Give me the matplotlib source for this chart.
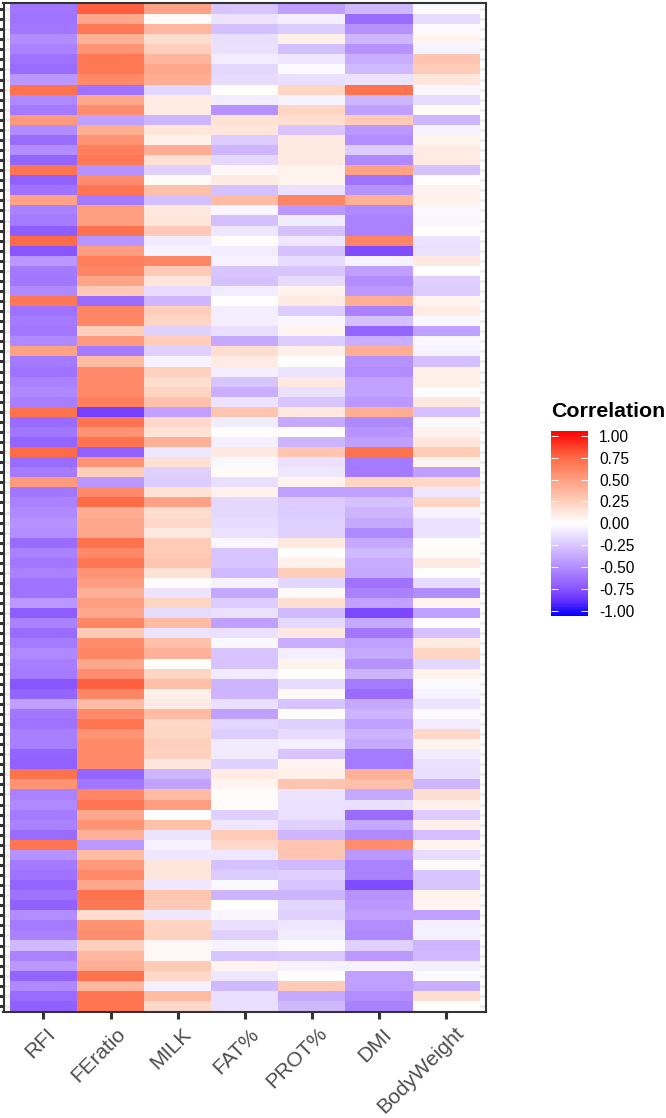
"""
Correlation heatmap of trait columns across 100 rows.
"""

import matplotlib
matplotlib.use("Agg")
import matplotlib.pyplot as plt
from matplotlib.colors import LinearSegmentedColormap, Normalize
from matplotlib.transforms import ScaledTranslation
import numpy as np

plt.rcParams["font.family"] = ["Liberation Sans", "DejaVu Sans"]

traits = ["RFI", "FEratio", "MILK", "FAT%", "PROT%", "DMI", "BodyWeight"]

rfi = [-.6, -.62, -.6, -.5, -.55, -.62, -.65, -.45, .72, -.52,
       -.58, .52, -.5, -.65, -.5, -.68, .7, -.7, -.62, .48,
       -.55, -.58, -.72, .75, -.75, -.45, -.58, -.6, -.52, .68,
       -.62, -.58, -.6, -.52, .48, -.58, -.62, -.55, -.52, -.57,
       .72, -.65, -.6, -.68, .75, -.65, -.58, .52, -.6, -.55,
       -.52, -.48, -.5, -.65, -.55, -.6, -.55, -.62, -.62, -.45,
       -.72, -.55, -.65, -.58, -.52, -.57, -.58, -.75, -.68, -.42,
       -.6, -.62, -.56, -.56, -.68, -.7, .72, .55, -.55, -.52,
       -.58, -.55, -.65, .7, -.48, -.58, -.62, -.68, -.62, -.7,
       -.5, -.58, -.55, -.3, -.55, -.45, -.68, -.52, -.65, -.7]
feratio = [.78, .45, .68, .4, .55, .68, .68, .6, -.62, .45,
           .58, -.42, .42, .55, .65, .68, -.48, .58, .7, -.58,
           .5, .5, .72, -.47, .5, .65, .62, .47, .27, -.65,
           .62, .62, .25, .52, -.58, .35, .6, .6, .6, .65,
           -.82, .7, .55, .72, -.7, .55, .25, -.45, .6, .75,
           .42, .45, .45, .72, .6, .68, .55, .5, .4, .5,
           .45, .62, .28, .58, .62, .45, .58, .78, .62, .35,
           .6, .7, .55, .6, .6, .6, -.68, -.6, .62, .7,
           .45, .55, .4, -.45, .35, .52, .6, .45, .72, .68,
           .18, .55, .58, .25, .38, .42, .72, .38, .7, .7]
milk = [.48, .02, .38, .17, .25, .38, .45, .42, -.18, .1,
        .1, -.32, .14, .08, .42, .16, -.2, .02, .33, -.28,
        .12, .14, .27, -.09, -.05, .62, .27, .14, -.15, -.32,
        .25, .22, -.2, .26, -.2, -.05, .24, .18, .23, .32,
        -.42, .2, .15, .4, -.1, .16, -.2, -.22, .15, .48,
        .17, .2, .12, .28, .28, .3, .15, .01, -.12, .22,
        -.15, .35, -.12, .33, .4, 0, .22, .33, .08, .1,
        .35, .2, .22, .25, .24, .13, -.32, -.4, .35, .5,
        0, .33, -.12, -.05, -.1, .13, .13, -.1, .3, .28,
        -.1, .23, .24, .04, .04, .28, .2, -.06, .35, .2]
fat = [-.25, -.12, -.28, -.14, -.13, -.08, -.17, -.15, 0, -.08,
       -.48, .15, .13, -.22, -.32, -.17, .04, .1, -.27, .35,
       -.04, -.28, -.1, .02, -.08, -.05, -.25, -.27, -.08, 0,
       -.07, -.07, -.14, -.38, .17, .1, -.07, -.25, -.35, -.12,
       .3, -.08, 0, -.07, .12, -.03, .03, -.14, .07, -.17,
       -.17, -.15, -.13, -.04, -.25, -.25, -.3, -.05, -.38, -.22,
       -.13, -.42, -.13, -.03, -.25, -.26, -.09, -.33, -.33, -.14,
       -.42, -.18, -.22, -.09, -.09, -.2, .1, .05, .01, .02,
       -.2, -.1, .27, .2, -.1, -.27, -.22, -.03, -.33, 0,
       -.04, -.14, -.2, -.05, -.25, .05, -.1, -.3, -.14, -.14]
prot = [-.42, -.06, -.22, .08, -.28, -.1, -.02, -.14, .22, -.05,
        .22, .18, -.25, .11, .11, .11, .06, .06, -.13, .62,
        -.45, -.08, -.27, -.1, -.27, -.15, -.25, -.16, .06, .1,
        -.22, -.04, .05, -.22, .08, 0, -.12, .12, -.13, -.25,
        .12, -.38, 0, -.33, .3, -.13, -.1, .06, -.42, -.22,
        -.22, -.2, -.2, .12, 0, .07, .26, -.18, .03, .17,
        -.3, -.17, .12, -.35, -.07, .06, 0, -.15, .03, -.26,
        0, -.2, -.15, -.06, -.25, .06, .08, .3, -.12, -.13,
        -.13, -.2, -.32, .3, .3, -.3, -.2, -.25, -.33, -.18,
        -.2, -.1, -.08, -.02, -.24, -.05, 0, .27, -.38, -.3]
dmi = [-.3, -.65, -.48, -.32, -.48, -.35, -.3, -.12, .72, -.32,
       -.42, .28, -.45, -.5, -.22, -.52, .48, -.62, -.48, .4,
       -.52, -.55, -.55, .62, -.78, -.05, -.42, -.5, -.45, .42,
       -.55, -.27, -.68, -.35, .42, -.48, -.5, -.4, -.4, -.45,
       .42, -.52, -.47, -.42, .72, -.58, -.58, .22, -.42, -.27,
       -.33, -.38, -.52, -.38, -.3, -.37, -.38, -.62, -.55, -.4,
       -.8, -.38, -.6, -.42, -.38, -.48, -.33, -.58, -.65, -.38,
       -.33, -.42, -.33, -.38, -.58, -.58, .4, .33, -.38, -.14,
       -.65, -.38, -.52, .58, -.45, -.55, -.55, -.78, -.48, -.45,
       -.42, -.5, -.52, -.2, -.45, -.05, -.42, -.42, -.5, -.55]
bodyweight = [-.02, -.15, -.02, .05, -.05, .3, .28, .13, -.04, -.15,
              .02, -.32, -.05, .05, .1, .1, -.27, 0, .07, .07,
              -.03, -.04, 0, -.12, -.13, .12, 0, -.2, -.22, .06,
              .1, -.03, -.42, -.03, -.05, -.28, .08, .09, -.01, .12,
              -.27, -.02, .07, .13, .28, .06, -.42, .2, -.1, .22,
              -.05, -.13, -.13, 0, .02, .1, 0, -.15, -.5, .05,
              -.42, 0, -.27, .1, .22, -.18, .06, -.02, -.05, -.12,
              -.02, -.08, .2, .07, -.08, -.13, -.14, -.32, .17, .08,
              -.22, .08, -.28, .06, -.15, .03, -.25, -.25, .06, .05,
              -.42, -.06, -.06, -.32, -.3, -.06, -.02, -.35, .18, 0]

bar_ticks = [1.0, 0.75, 0.5, 0.25, 0.0, -0.25, -0.5, -0.75, -1.0]
bar_labels = ["1.00", "0.75", "0.50", "0.25", "0.00", "-0.25", "-0.50", "-0.75", "-1.00"]

# blue-white-red as ggplot draws it (Lab), so the blue side goes through purple
color_vals = [-1.06, -0.875, -0.75, -0.5, -0.25, 0, 0.25, 0.5, 0.75, 1.06]
color_hex = ["#0000ff", "#6a33ff", "#8a56ff", "#b38eff", "#d9c6ff", "#ffffff",
             "#ffd0bd", "#ff9e81", "#ff6c47", "#ff0000"]
norm = Normalize(-1.06, 1.06)
cmap = LinearSegmentedColormap.from_list(
    "corr", [(float(norm(v)), c) for v, c in zip(color_vals, color_hex)])

W, H = 666, 1118
fig = plt.figure(figsize=(W / 100, H / 100), dpi=100)
ax = fig.add_axes([3.5 / W, 1 - 1012 / H, 482.5 / W, 1009 / H])

data = np.array([rfi, feratio, milk, fat, prot, dmi, bodyweight]).T
im = ax.imshow(data, cmap=cmap, norm=norm, aspect="auto", interpolation="nearest", zorder=2)

ax.set_xlim(-0.595, 6.595)
ax.set_ylim(99.6, -0.6)
ax.set_axisbelow(True)
ax.grid(axis="y", color="#ebebeb", lw=1.8)

ax.set_xticks(range(len(traits)))
ax.set_xticklabels(traits, rotation=45, ha="right", va="top", rotation_mode="anchor",
                   fontsize=15.2, color="#4d4d4d")
ax.set_yticks(range(data.shape[0]))
ax.set_yticklabels([])
ax.tick_params(axis="both", length=5, width=2.2, color="#333333", pad=5)
for spine in ax.spines.values():
    spine.set_color("#333333")
    spine.set_linewidth(1.5)
    spine.set_zorder(5)

# ggplot labels here are not quite right-aligned: longer ones sit further over
fig.canvas.draw()
for lab in ax.get_xticklabels():
    w = lab.get_window_extent().width
    shift = ScaledTranslation((-1 + 0.1 * w) / 100, 0.03 * w / 100, fig.dpi_scale_trans)
    lab.set_transform(lab.get_transform() + shift)

# legend
cax = fig.add_axes([551 / W, 1 - 616 / H, 37 / W, 185.3 / H])
cbar = fig.colorbar(im, cax=cax)
cbar.outline.set_visible(False)
cbar.set_ticks(bar_ticks)
cbar.set_ticklabels(bar_labels)
cax.minorticks_off()
cax.tick_params(length=0, pad=8, labelsize=11.2, labelcolor="black")
tr = cax.get_yaxis_transform()
cax.hlines(bar_ticks, 0, 0.2, transform=tr, color="white", lw=0.7)
cax.hlines(bar_ticks, 0.8, 1, transform=tr, color="white", lw=0.7)
fig.text(551 / W, 1 - 417 / H, "Correlation", fontsize=15.4, fontweight="bold", color="black")

fig.savefig("out.png", dpi=100)
